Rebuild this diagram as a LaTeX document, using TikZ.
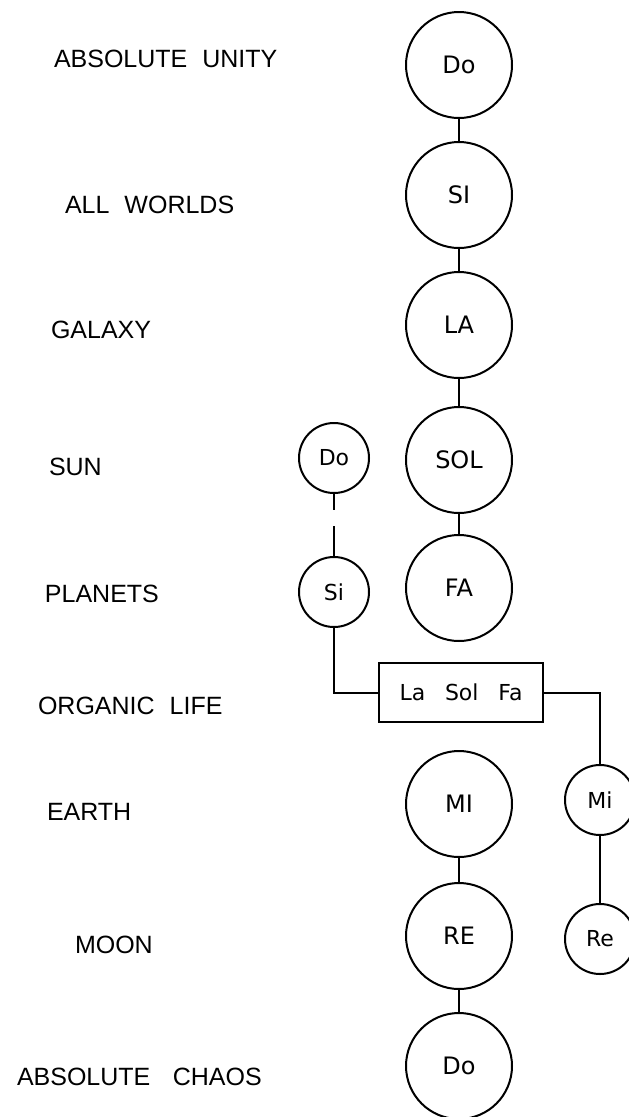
\documentclass[tikz,border=0pt]{standalone}
\usepackage{fontspec}
\setmainfont{Liberation Sans}
\newfontfamily\notefont{DejaVu Sans}
\begin{document}
\begin{tikzpicture}[x=1pt,y=-1pt,
  line width=2pt,
  level/.style={anchor=west,inner sep=0pt,font=\fontsize{25}{25}\selectfont},
  big/.style={circle,draw,minimum size=106pt,inner sep=0pt,font=\notefont\fontsize{24}{24}\selectfont},
  small/.style={circle,draw,minimum size=70pt,inner sep=0pt,font=\notefont\fontsize{22}{22}\selectfont},
  octave/.style={rectangle,draw,minimum width=164pt,minimum height=59pt,inner sep=0pt,font=\notefont\fontsize{22}{22}\selectfont}]
\useasboundingbox (0,0) rectangle (629,1117);
\clip (0,0) rectangle (629,1117);

% level names
\node[level] (l1) at (53,59)  {ABSOLUTE\hspace{0.6em}UNITY};
\node[level] (l2) at (64,205) {ALL\hspace{0.6em}WORLDS};
\node[level] (l3) at (50,330) {GALAXY};
\node[level] (l4) at (48,467) {SUN};
\node[level] (l5) at (44,594) {PLANETS};
\node[level] (l6) at (37,706) {ORGANIC\hspace{0.6em}LIFE};
\node[level] (l7) at (46,812) {EARTH};
\node[level] (l8) at (74,945) {MOON};
\node[level] (l9) at (16,1077) {ABSOLUTE\hspace{0.9em}CHAOS};

% main octave
\node[big] (do1) at (459,65)   {Do};
\node[big] (si)  at (459,195)  {SI};
\node[big] (la)  at (459,325)  {LA};
\node[big] (sol) at (459,460)  {SOL};
\node[big] (fa)  at (459,588)  {FA};
\node[big] (mi)  at (459,804)  {MI};
\node[big] (re)  at (459,936)  {RE};
\node[big] (do2) at (459,1066) {Do};

% lateral octave
\node[small] (sdo) at (334,458) {Do};
\node[small] (ssi) at (334,592) {Si};
\node[octave] (life) at (461,692.5) {La\hspace{0.9em}Sol\hspace{0.9em}Fa};
\node[small] (smi) at (600,800) {Mi};
\node[small] (sre) at (600,939) {Re};

% connectors
\draw (do1) -- (si);
\draw (si) -- (la);
\draw (la) -- (sol);
\draw (sol) -- (fa);
\draw (mi) -- (re);
\draw (re) -- (do2);
\draw (sdo.south) -- ++(0,16);
\draw (ssi.north) -- ++(0,-30);
\draw (ssi.south) |- (life.west);
\draw (life.east) -| (smi.north);
\draw (smi) -- (sre);
\end{tikzpicture}
\end{document}
